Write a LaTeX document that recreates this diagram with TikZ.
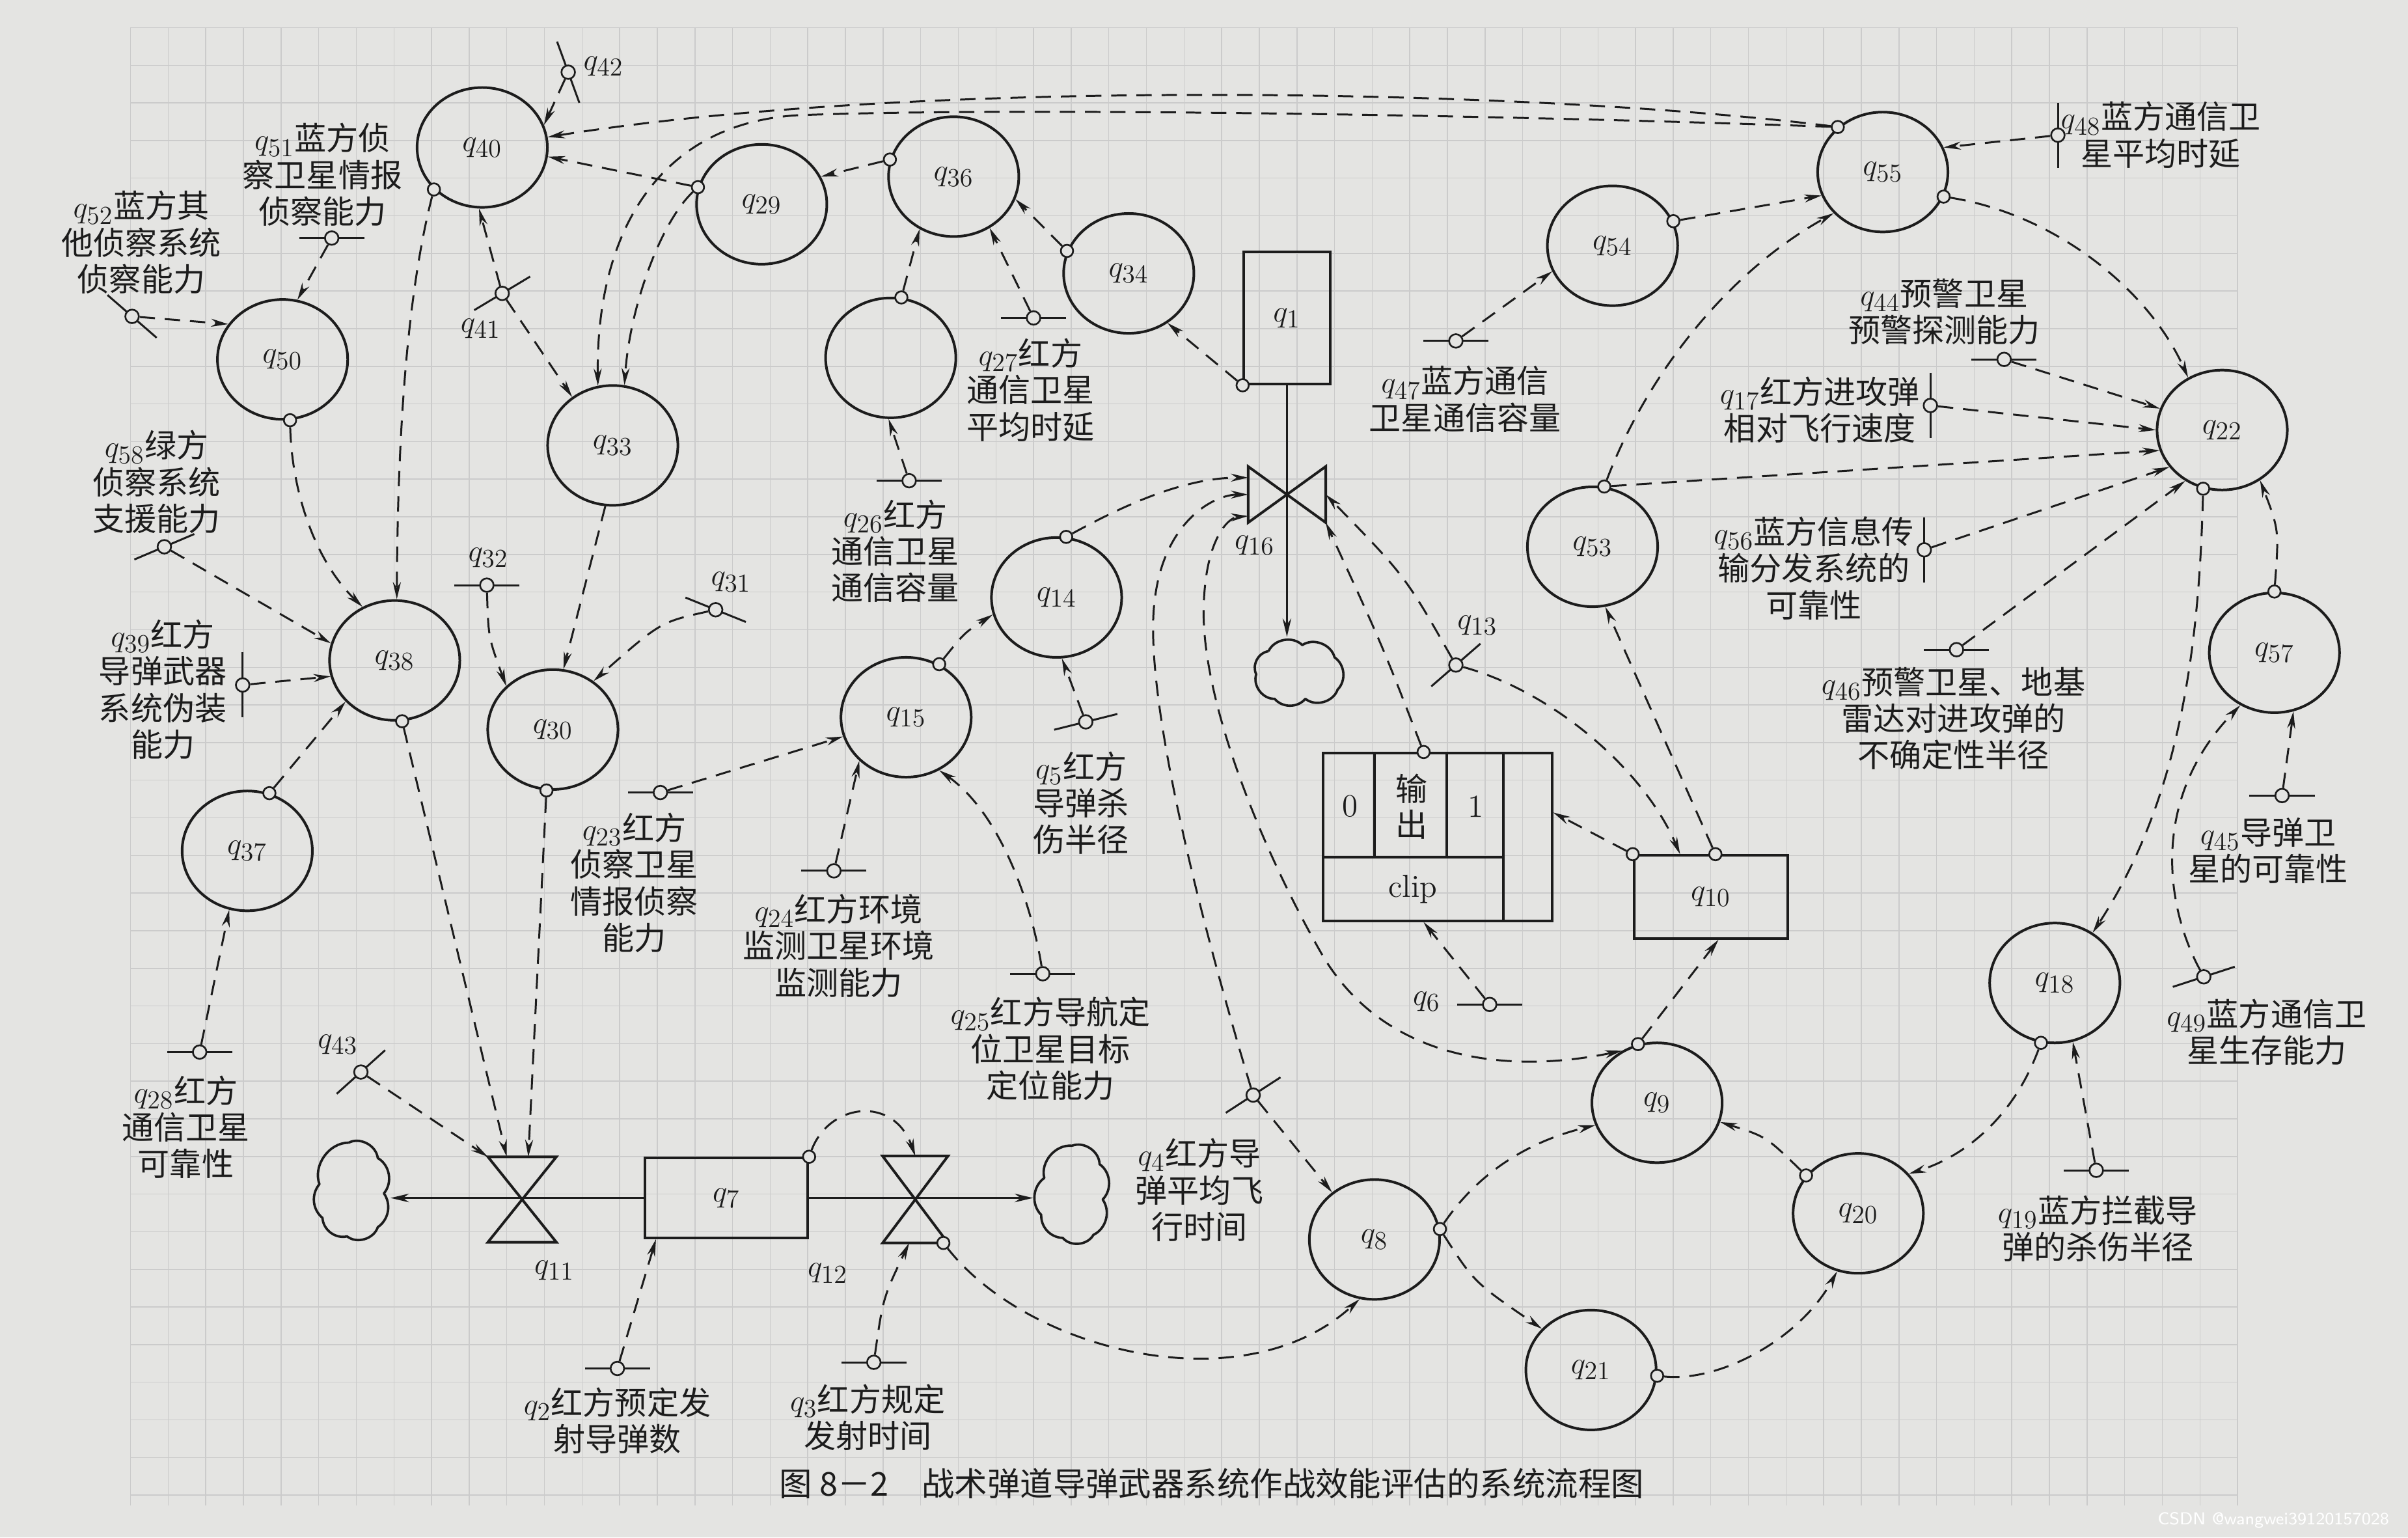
\documentclass[tikz,border=0pt]{standalone}
\usepackage{fontspec}
\newfontfamily\cjk{Noto Sans CJK SC}
\DeclareMathSizes{14.8}{14.8}{11.6}{9}
\DeclareMathSizes{15.2}{15.2}{11.8}{9}
\usetikzlibrary{arrows.meta,calc,shapes.geometric}
\definecolor{paper}{RGB}{228,228,226}
\definecolor{gridc}{RGB}{203,203,203}
\definecolor{ink}{RGB}{28,28,28}
\newcommand\param[3]{%
  \coordinate (#1c) at (#2);
  \draw[bar] ($(#1c)+(#3:0.53cm)$) -- ($(#1c)-(#3:0.53cm)$);
  \node[pdot] (#1) at (#1c) {};}
\begin{document}
\begin{tikzpicture}[x=0.025cm,y=-0.025cm,
  font=\cjk\fontsize{14.8}{17}\selectfont,
  var/.style={ellipse,draw=ink,line width=1.2pt,minimum width=2.12cm,minimum height=1.95cm,inner sep=0pt,text=ink},
  box/.style={rectangle,draw=ink,line width=1.2pt,inner sep=0pt,text=ink},
  valvebox/.style={rectangle,inner sep=0pt},
  valve/.style={draw=ink,line width=1.2pt,line join=miter},
  odot/.style={circle,draw=ink,fill=paper,line width=0.8pt,minimum size=0.2cm,inner sep=0pt},
  pdot/.style={circle,draw=ink,fill=paper,line width=0.8pt,minimum size=0.22cm,inner sep=0pt},
  bar/.style={line width=0.9pt,draw=ink},
  info/.style={draw=ink,line width=0.9pt,dash pattern=on 0.25cm off 0.16cm,-{Stealth[length=0.28cm,width=0.13cm]}},
  infotwo/.style={draw=ink,line width=0.9pt,dash pattern=on 0.25cm off 0.16cm,{Stealth[length=0.28cm,width=0.13cm]}-{Stealth[length=0.28cm,width=0.13cm]}},
  flow/.style={draw=ink,line width=0.9pt,-{Stealth[length=0.3cm,width=0.14cm]}},
  cloudline/.style={draw=ink,line width=1.1pt,line join=round},
  lbl/.style={align=center,inner sep=0pt,text=ink,anchor=north},
  ql/.style={inner sep=0pt,text=ink},
  rmtext/.style={inner sep=0pt,text=ink,font=\rmfamily\fontsize{14.8}{17}\selectfont},
]
\useasboundingbox (0,0) rectangle (1568,1001);
\fill[paper] (0,0) rectangle (1568,1001);
\foreach \gx in {0,...,56} \draw[gridc,line width=0.45pt] ({85+\gx*24.5},18) -- ({85+\gx*24.5},980);
\foreach \gy in {0,...,39} \draw[gridc,line width=0.45pt] (85,{18+\gy*24.5}) -- (1457,{18+\gy*24.5});

% ---------- level / auxiliary variables ----------
\node[var] (q40) at (314,96) {$q_{40}$};
\node[var] (q29) at (496,133) {$q_{29}$};
\node[var] (q36) at (621,115) {$q_{36}$};
\node[var] (q34) at (735,178) {$q_{34}$};
\node[var] (qB)  at (580,233) {};
\node[var] (q50) at (184,234) {$q_{50}$};
\node[var] (q33) at (399,290) {$q_{33}$};
\node[var] (q38) at (257,430) {$q_{38}$};
\node[var] (q30) at (360,475) {$q_{30}$};
\node[var] (q15) at (590,467) {$q_{15}$};
\node[var] (q14) at (688,389) {$q_{14}$};
\node[var] (q37) at (161,554) {$q_{37}$};
\node[var] (q54) at (1050,160) {$q_{54}$};
\node[var] (q55) at (1226,112) {$q_{55}$};
\node[var] (q22) at (1447,280) {$q_{22}$};
\node[var] (q53) at (1037,356) {$q_{53}$};
\node[var] (q57) at (1481,425) {$q_{57}$};
\node[var] (q18) at (1338,640) {$q_{18}$};
\node[var] (q9)  at (1079,718) {$q_{9}$};
\node[var] (q20) at (1210,790) {$q_{20}$};
\node[var] (q8)  at (895,807) {$q_{8}$};
\node[var] (q21) at (1036,892) {$q_{21}$};

\node[box,minimum width=1.4cm,minimum height=2.15cm] (q1) at (838,207) {$q_{1}$};
\node[box,minimum width=2.65cm,minimum height=1.3cm] (q7) at (473,780) {$q_{7}$};
\node[box,minimum width=2.5cm,minimum height=1.35cm] (q10) at (1114,584) {$q_{10}$};
\node[box,minimum width=3.725cm,minimum height=2.725cm] (clip) at (936,545) {};
\draw[ink,line width=1.2pt] (895,490) -- (895,558) (942,490) -- (942,558) (979,490) -- (979,599) (861,558) -- (979,558);
\node[rmtext] (c0) at (879,525) {0};
\node[lbl,anchor=center,font=\cjk\fontsize{14.8}{16.5}\selectfont] (cout) at (919,525) {输\\出};
\node[rmtext] (c1) at (961,525) {1};
\node[rmtext] (cclip) at (920,579) {clip};

% valves
\node[valvebox,minimum width=1.1cm,minimum height=1.375cm] (q11) at (340,781) {};
\draw[valve] (q11.north west) -- (q11.north east) -- (q11.south west) -- (q11.south east) -- cycle;
\node[valvebox,minimum width=1.05cm,minimum height=1.4cm] (q12) at (596,781) {};
\draw[valve] (q12.north west) -- (q12.north east) -- (q12.south west) -- (q12.south east) -- cycle;
\node[valvebox,minimum width=1.25cm,minimum height=0.9cm] (q16) at (838,322) {};
\draw[valve] (q16.north west) -- (q16.south west) -- (q16.north east) -- (q16.south east) -- cycle;

% clouds (scalloped outlines)
\node[valvebox,minimum width=1.25cm,minimum height=1.75cm] (cl1) at (229,775) {};
\draw[cloudline,shift={(cl1.center)}] (-2,-31) to[bend left=55] (17,-21) to[bend left=50] (21,2) to[bend left=45] (17,24)
   to[bend left=55] (-3,30) to[bend left=50] (-19,18) to[bend left=45] (-21,-4) to[bend left=55] (-2,-31);
\node[valvebox,minimum width=1.25cm,minimum height=1.75cm] (cl2) at (698,777) {};
\draw[cloudline,shift={(cl2.center)}] (0,-31) to[bend left=55] (18,-19) to[bend left=50] (20,4) to[bend left=50] (14,27)
   to[bend left=55] (-6,29) to[bend left=45] (-20,14) to[bend left=50] (-18,-10) to[bend left=55] (0,-31);
\node[valvebox,minimum width=1.55cm,minimum height=1.1cm] (cl3) at (845,437) {};
\draw[cloudline,shift={(cl3.center)}] (-19,-13) to[bend left=55] (3,-17) to[bend left=55] (24,-9) to[bend left=50] (26,12)
   to[bend left=55] (5,18) to[bend left=50] (-15,18) to[bend left=55] (-27,2) to[bend left=55] (-19,-13);

% flows
\draw[flow] (q1.south) -- (q1.south |- cl3.north);
\draw[flow] (q7.west) -- (q7.west -| cl1.east);
\draw[flow] (q7.east) -- (q7.east -| cl2.west);

% origin dots
\node[odot] (q40o) at (q40.221) {};
\node[odot] (q29o) at (q29.165) {};
\node[odot] (q36o) at (q36.165) {};
\node[odot] (q34o) at (q34.160) {};
\node[odot] (qBo)  at (qB.80) {};
\node[odot] (q1o)  at (q1.south west) {};
\node[odot] (q50o) at (q50.277) {};
\node[odot] (q38o) at (q38.277) {};
\node[odot] (q37o) at (q37.69) {};
\node[odot] (q30o) at (q30.264) {};
\node[odot] (q15o) at (q15.58) {};
\node[odot] (q14o) at (q14.81) {};
\node[odot] (q54o) at (q54.22) {};
\node[odot] (q55a) at (q55.135) {};
\node[odot] (q55b) at (q55.338) {};
\node[odot] (q53o) at (q53.79) {};
\node[odot] (q22o) at (q22.252) {};
\node[odot] (q57o) at (q57.90) {};
\node[odot] (q18o) at (q18.257) {};
\node[odot] (q20o) at (q20.144) {};
\node[odot] (q21o) at (q21.355) {};
\node[odot] (q8o)  at (q8.9) {};
\node[odot] (q9o)  at (q9.108) {};
\node[odot] (q10a) at (q10.north west) {};
\node[odot] (q10b) at ($(q10.north)+(3,0)$) {};
\node[odot] (clipo) at ($(clip.north)+(-9,0)$) {};
\node[odot] (q7o)  at (q7.north east) {};
\node[odot] (q12o) at ($(q12.south east)+(-3,0)$) {};

% parameters
\param{p42}{370,47}{110}
\param{p51}{216,155}{0}
\param{p52}{86,206}{-41}
\param{p58}{107,356}{23}
\param{p39}{158,446}{90}
\param{p41}{327,191}{31}
\param{p32}{317,381}{0}
\param{p31}{466,397}{-22}
\param{p27}{673,207}{0}
\param{p26}{592,313}{0}
\param{p47}{948,222}{0}
\param{p48}{1340,88}{90}
\param{p44}{1305,234}{0}
\param{p17}{1257,264}{90}
\param{p56}{1253,358}{90}
\param{p46}{1274,423}{0}
\param{p45}{1486,518}{0}
\param{p49}{1435,636}{18}
\param{p19}{1365,762}{0}
\param{p13}{948,433}{41}
\param{p5}{707,470}{14}
\param{p23}{430,516}{0}
\param{p24}{543,567}{0}
\param{p25}{679,634}{0}
\param{p28}{130,685}{0}
\param{p43}{235,698}{42}
\param{p4}{816,713}{33}
\param{p6}{970,654}{0}
\param{p2}{402,891}{0}
\param{p3}{569,887}{0}

% information links
\draw[info] (p42) -- (q40.20);
\draw[info] (p51) -- (q50.76);
\draw[info] (p52) -- (q50.147);
\draw[info] (q50o) .. controls (190,320) and (205,365) .. (q38.121);
\draw[info] (p58) -- (q38.165);
\draw[info] (p39) -- (q38.194);
\draw[info] (q37o) -- (q38.220);
\draw[info] (p28) -- (q37.253);
\draw[info] (q40o) .. controls (268,180) and (259,260) .. (q38.88);
\draw[info] (p41) -- (q40.267);
\draw[info] (p41) -- (q33.130);
\draw[info] (q29o) -- (q40.352);
\draw[info] (q55a) .. controls (1000,58) and (600,50) .. (q40.9);
\draw[info] (q55a) .. controls (950,74) and (650,70) .. (520,75) .. controls (430,80) and (388,150) .. (q33.104);
\draw[info] (q29o) .. controls (430,145) and (410,200) .. (q33.79);
\draw[info] (q36o) -- (q29.25);
\draw[info] (q34o) -- (q36.340);
\draw[info] (p27) -- (q36.305);
\draw[info] (qBo) -- (q36.237);
\draw[info] (p26) -- (qB.268);
\draw[info] (q1o) -- (q34.308);
\draw[info] (q33.263) -- (q30.80);
\draw[info] (p32) .. controls (318,415) .. (q30.137);
\draw[info] (p31) .. controls (430,405) .. (q30.50);
\draw[info] (q38o) -- ($(q11.north)+(-10,0)$);
\draw[info] (q30o) -- ($(q11.north)+(4,0)$);
\draw[info] (p43) -- (q11.north west);
\draw[info] (q15o) .. controls (628,412) .. (q14.195);
\draw[info] (p5) -- (q14.275);
\draw[info] (p23) -- (q15.197);
\draw[info] (p24) -- (q15.223);
\draw[info] (p25) .. controls (672,590) and (652,530) .. (q15.302);
\draw[info] (q14o) .. controls (730,330) and (770,311) .. ($(q16.west)+(0,-11)$);
\draw[info] (p4) .. controls (770,560) and (745,440) .. (752,390) .. controls (758,340) and (790,322) .. (q16.west);
\draw[info] (p4) -- (q8.132);
\draw[infotwo] (q9.124) .. controls (980,700) and (900,690) .. (860,620) .. controls (820,550) and (780,450) .. (784,390) .. controls (786,350) and (800,337) .. ($(q16.west)+(0,14)$);
\draw[info] (p13) .. controls (915,375) .. (q16.east);
\draw[info] (clipo) .. controls (900,420) .. (q16.south east);
\draw[info] (p13) .. controls (1010,450) and (1070,500) .. ($(q10.north)+(-20,0)$);
\draw[info] (q10b) -- (q53.282);
\draw[info] (q10a) -- ($(clip.east)+(0,-16)$);
\draw[info] (p6) -- ($(clip.south)+(-9,0)$);
\draw[info] (q9o) -- ($(q10.south)+(5,0)$);
\draw[info] (q8o) .. controls (965,760) and (1000,742) .. (q9.200);
\draw[info] (q8o) .. controls (960,835) .. (q21.140);
\draw[info] (q21o) .. controls (1120,900) and (1172,872) .. (q20.250);
\draw[info] (q20o) .. controls (1150,740) .. (q9.343);
\draw[info] (q18o) .. controls (1312,725) and (1282,752) .. (q20.38);
\draw[info] (p19) -- (q18.287);
\draw[info] (q22o) .. controls (1432,420) and (1420,520) .. (q18.53);
\draw[info] (q57o) .. controls (1484,345) .. (q22.307);
\draw[info] (p45) -- (q57.288);
\draw[info] (p49) .. controls (1410,590) and (1400,520) .. (q57.237);
\draw[info] (q55b) .. controls (1340,140) and (1400,190) .. (q22.123);
\draw[info] (p44) -- (q22.161);
\draw[info] (p17) -- (q22.180);
\draw[info] (q53o) -- (q22.198);
\draw[info] (p56) -- (q22.215);
\draw[info] (p46) -- (q22.234);
\draw[info] (p48) -- (q55.22);
\draw[info] (q54o) -- (q55.201);
\draw[info] (q53o) .. controls (1070,250) and (1120,180) .. (q55.220);
\draw[info] (p47) -- (q54.203);
\draw[info] (q7o) .. controls (540,718) and (582,713) .. (q12.north);
\draw[info] (q12o) .. controls (670,880) and (810,915) .. (q8.256);
\draw[info] (p3) .. controls (575,845) .. ($(q12.south)+(-4,0)$);
\draw[info] (p2) -- ($(q7.south west)+(8,0)$);

% labels
\node[ql] (t42) at (393,43) {$q_{42}$};
\node[ql] (t41) at (313,214) {$q_{41}$};
\node[ql] (t32) at (318,363) {$q_{32}$};
\node[ql] (t31) at (476,379) {$q_{31}$};
\node[ql] (t13) at (962,407) {$q_{13}$};
\node[ql] (t43) at (220,680) {$q_{43}$};
\node[ql] (t6) at (929,652) {$q_{6}$};
\node[ql] (t16) at (817,355) {$q_{16}$};
\node[ql] (t11) at (361,827) {$q_{11}$};
\node[ql] (t12) at (539,829) {$q_{12}$};

\node[lbl] (l51) at (210,80) {$q_{51}$蓝方侦\\察卫星情报\\侦察能力};
\node[lbl] (l52) at (92,124) {$q_{52}$蓝方其\\他侦察系统\\侦察能力};
\node[lbl] (l58) at (102,280) {$q_{58}$绿方\\侦察系统\\支援能力};
\node[lbl] (l39) at (106,403) {$q_{39}$红方\\导弹武器\\系统伪装\\能力};
\node[lbl] (l28) at (121,700) {$q_{28}$红方\\通信卫星\\可靠性};
\node[lbl] (l2) at (402,903) {$q_{2}$红方预定发\\射导弹数};
\node[lbl] (l3) at (565,901) {$q_{3}$红方规定\\发射时间};
\node[lbl] (l23) at (413,529) {$q_{23}$红方\\侦察卫星\\情报侦察\\能力};
\node[lbl] (l24) at (546,582) {$q_{24}$红方环境\\监测卫星环境\\监测能力};
\node[lbl] (l25) at (684,649) {$q_{25}$红方导航定\\位卫星目标\\定位能力};
\node[lbl] (l5) at (704,489) {$q_{5}$红方\\导弹杀\\伤半径};
\node[lbl] (l4) at (781,741) {$q_{4}$红方导\\弹平均飞\\行时间};
\node[lbl] (l26) at (583,325) {$q_{26}$红方\\通信卫星\\通信容量};
\node[lbl] (l27) at (671,220) {$q_{27}$红方\\通信卫星\\平均时延};
\node[lbl] (l47) at (954,238) {$q_{47}$蓝方通信\\卫星通信容量};
\node[lbl] (l48) at (1407,66) {$q_{48}$蓝方通信卫\\星平均时延};
\node[lbl] (l44) at (1266,181) {$q_{44}$预警卫星\\预警探测能力};
\node[lbl] (l17) at (1185,245) {$q_{17}$红方进攻弹\\相对飞行速度};
\node[lbl] (l56) at (1181,336) {$q_{56}$蓝方信息传\\输分发系统的\\可靠性};
\node[lbl] (l46) at (1272,434) {$q_{46}$预警卫星、地基\\雷达对进攻弹的\\不确定性半径};
\node[lbl] (l45) at (1477,532) {$q_{45}$导弹卫\\星的可靠性};
\node[lbl] (l49) at (1476,650) {$q_{49}$蓝方通信卫\\星生存能力};
\node[lbl] (l19) at (1366,778) {$q_{19}$蓝方拦截导\\弹的杀伤半径};

\node[inner sep=0pt,text=ink,font=\cjk\fontsize{15.2}{17}\selectfont] (cap) at (789,966) {图 8－2\quad 战术弹道导弹武器系统作战效能评估的系统流程图};
\node[inner sep=0pt,text=white,font=\sffamily\fontsize{8}{9}\selectfont,anchor=east] (wm) at (1556,990) {CSDN @wangwei39120157028};
\end{tikzpicture}
\end{document}
